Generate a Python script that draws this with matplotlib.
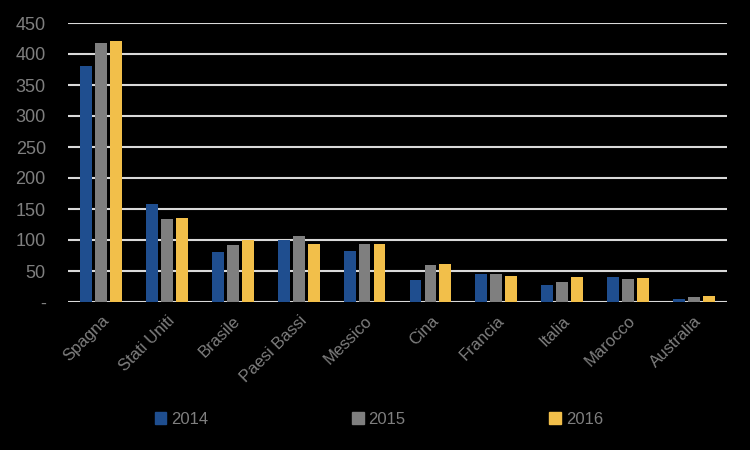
import matplotlib
matplotlib.use("Agg")
import matplotlib.pyplot as plt
import numpy as np
from matplotlib.ticker import FuncFormatter
from matplotlib.patches import Patch

categories = ["Spagna", "Stati Uniti", "Brasile", "Paesi Bassi", "Messico",
              "Cina", "Francia", "Italia", "Marocco", "Australia"]
years = ["2014", "2015", "2016"]
v2014 = [380, 158, 81, 100, 83, 36, 45, 28, 40, 5]
v2015 = [418, 134, 92, 106, 94, 60, 45, 33, 37, 8]
v2016 = [421, 135, 100, 93, 94, 62, 42, 40, 39, 10]
yticks = [0, 50, 100, 150, 200, 250, 300, 350, 400, 450]

colors = ["#1F4E8F", "#7F7F7F", "#F2BF4A"]
txt = "#7F7F7F"
plt.rcParams['font.family'] = ['Liberation Sans', 'DejaVu Sans']

fig = plt.figure(figsize=(7.5, 4.5), dpi=100, facecolor="black")
ax = fig.add_axes([68/750, 1-302/450, (727-68)/750, (302-23)/450])
ax.set_facecolor("black")

x = np.arange(len(categories))
w = 0.18
step = 0.227
for i, vals in enumerate([v2014, v2015, v2016]):
    ax.bar(x + (i-1)*step, vals, width=w, color=colors[i], zorder=3)

ax.set_xlim(-0.5, len(categories)-0.5)
ax.set_ylim(0, 450)
ax.set_yticks(yticks)
ax.yaxis.set_major_formatter(FuncFormatter(lambda v, p: "-" if v == 0 else f"{int(v)}"))
ax.grid(axis="y", color="#D9D9D9", linewidth=1.5, zorder=0)
for s in ax.spines.values():
    s.set_visible(False)
ax.tick_params(axis="both", length=0, colors=txt)
ax.tick_params(axis="y", pad=16, labelsize=13)
ax.set_xticks(x)
ax.set_xticklabels(categories, rotation=45, ha="right", rotation_mode="anchor", color=txt, fontsize=12)
ax.tick_params(axis="x", pad=8)

handles = [Patch(color=c, label=y) for c, y in zip(colors, years)]
fig.legend(handles=handles, loc="center", bbox_to_anchor=(0.505, 1-419/450), ncol=3,
           frameon=False, fontsize=12, labelcolor=txt, handlelength=0.7, handleheight=0.7,
           handletextpad=0.3, columnspacing=8.6)

fig.savefig("out.png", dpi=100, facecolor="black")
